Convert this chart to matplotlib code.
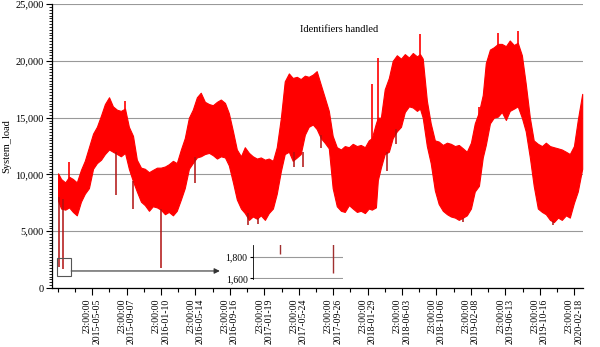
import numpy as np
import pandas as pd
import matplotlib
matplotlib.use("Agg")
import matplotlib.pyplot as plt
import matplotlib.dates as mdates
from matplotlib.patches import Rectangle
from matplotlib.ticker import MultipleLocator, FuncFormatter

plt.rcParams["font.family"] = ["Liberation Serif", "DejaVu Serif"]

# Envelope of the hourly load series (upper / lower level around each date)
sample_dates = [
    "2015-01-02", "2015-01-13", "2015-01-28", "2015-02-11", "2015-02-25", "2015-03-11",
    "2015-03-26", "2015-04-09", "2015-04-24", "2015-05-09", "2015-05-23", "2015-06-07",
    "2015-06-21", "2015-07-06", "2015-07-20", "2015-08-04", "2015-08-18", "2015-09-02",
    "2015-09-16", "2015-10-01", "2015-10-15", "2015-10-30", "2015-11-13", "2015-11-28",
    "2015-12-12", "2015-12-27", "2016-01-10", "2016-01-25", "2016-02-08", "2016-02-23",
    "2016-03-08", "2016-03-23", "2016-04-06", "2016-04-21", "2016-05-05", "2016-05-20",
    "2016-06-03", "2016-06-18", "2016-07-03", "2016-07-17", "2016-08-01", "2016-08-15",
    "2016-08-30", "2016-09-13", "2016-09-28", "2016-10-12", "2016-10-27", "2016-11-10",
    "2016-11-25", "2016-12-09", "2016-12-24", "2017-01-07", "2017-01-22", "2017-02-05",
    "2017-02-20", "2017-03-06", "2017-03-21", "2017-04-04", "2017-04-19", "2017-05-03",
    "2017-05-18", "2017-06-01", "2017-06-16", "2017-06-30", "2017-07-15", "2017-07-29",
    "2017-08-13", "2017-08-27", "2017-09-11", "2017-09-25", "2017-10-10", "2017-10-25",
    "2017-11-08", "2017-11-23", "2017-12-07", "2017-12-22", "2018-01-05", "2018-01-20",
    "2018-02-03", "2018-02-14", "2018-03-01", "2018-03-08", "2018-03-19", "2018-04-02",
    "2018-04-17", "2018-05-01", "2018-05-16", "2018-05-31", "2018-06-14", "2018-06-29",
    "2018-07-13", "2018-07-28", "2018-08-08", "2018-08-18", "2018-09-02", "2018-09-16",
    "2018-10-01", "2018-10-15", "2018-10-30", "2018-11-14", "2018-11-28", "2018-12-13",
    "2018-12-27", "2019-01-11", "2019-01-25", "2019-02-09", "2019-02-23", "2019-03-10",
    "2019-03-24", "2019-04-04", "2019-04-19", "2019-05-03", "2019-05-18", "2019-06-01",
    "2019-06-16", "2019-06-30", "2019-07-15", "2019-07-29", "2019-08-13", "2019-08-27",
    "2019-09-11", "2019-09-25", "2019-10-10", "2019-10-25", "2019-11-08", "2019-11-23",
    "2019-12-07", "2019-12-22", "2020-01-05", "2020-01-20", "2020-02-03", "2020-02-18",
    "2020-03-03", "2020-03-19",
]
load_high = [
    10100, 9600, 9300, 9800, 9600, 9300, 10400, 11200, 12400, 13600, 14200, 15200,
    16200, 16800, 16000, 15700, 15600, 15800, 14200, 13400, 11300, 10600, 10500, 10200,
    10400, 10600, 10600, 10700, 10900, 11200, 11000, 12200, 13200, 15000, 15700, 16800,
    17200, 16400, 16200, 16100, 16400, 16600, 16300, 15400, 13800, 12200, 11600, 12400,
    11900, 11600, 11400, 11500, 11300, 11400, 11200, 12400, 15000, 18200, 18900, 18500,
    18600, 18400, 18700, 18600, 18800, 19100, 17900, 16800, 15600, 13400, 12400, 12200,
    12500, 12400, 12700, 12500, 12600, 12400, 13000, 13200, 14500, 15000, 15000, 17500,
    18500, 20000, 20500, 20200, 20600, 20300, 20700, 20400, 20600, 20200, 16500, 14500,
    13000, 12900, 12600, 12800, 12700, 12500, 12600, 12300, 12000, 12800, 14500, 15500,
    17000, 19800, 21000, 21200, 21500, 21500, 21300, 21800, 21400, 21600, 20500, 18000,
    15000, 13000, 12700, 12500, 12800, 12500, 12400, 12300, 12200, 12000, 11800, 12500,
    14800, 17100,
]
load_low = [
    7700, 7000, 6900, 7100, 6700, 6400, 7600, 8300, 8800, 10500, 11000, 11300,
    11800, 12200, 12000, 11800, 11600, 11900, 10500, 9400, 8500, 7600, 7300, 6800,
    7200, 7100, 6900, 6500, 6700, 6400, 6800, 7800, 8800, 10500, 11000, 11500,
    11600, 11800, 11900, 11700, 11400, 11600, 11500, 10800, 9300, 7800, 7000, 6600,
    6000, 6300, 6100, 6400, 6000, 6600, 7000, 8300, 10300, 11800, 12000, 11200,
    11500, 11800, 13500, 14200, 14400, 14000, 13200, 12800, 12300, 8800, 7200, 6800,
    6700, 7300, 7000, 6700, 6800, 6600, 7000, 6900, 7100, 9500, 10600, 11800,
    12000, 13200, 13800, 14200, 15500, 16000, 15900, 15600, 15800, 15000, 12500, 11000,
    8600, 7400, 6800, 6500, 6300, 6200, 6000, 6200, 6400, 7000, 8500, 9000,
    11500, 12600, 14500, 15000, 15100, 15500, 14800, 15600, 15800, 16000, 15000, 13800,
    11500, 9000, 7000, 6700, 6500, 6000, 5800, 6200, 6000, 6400, 6200, 7500,
    8500, 10500,
]

# Isolated drops below the envelope
dip_dates = ["2015-01-05", "2015-01-21", "2015-07-31", "2015-10-02", "2016-01-09",
             "2016-05-13", "2016-11-21", "2016-12-27", "2017-05-07", "2017-06-09",
             "2017-08-13", "2018-04-09", "2018-05-12", "2019-01-11", "2019-12-05"]
dip_from = [8000, 7800, 12000, 9400, 7000, 11500, 6600, 6200, 12000, 12000,
            13500, 12000, 14000, 6200, 5900]
dip_to = [1830, 1650, 8200, 7000, 1760, 9240, 5540, 5630, 10650, 10650,
          12300, 10300, 12700, 5800, 5540]

# Isolated peaks above the envelope
peak_dates = ["2015-02-11", "2015-09-02", "2018-02-14", "2018-03-08", "2018-08-08",
              "2019-03-10", "2019-05-18", "2019-07-29"]
peak_from = [9500, 15000, 12800, 14000, 20400, 13500, 21200, 21400]
peak_to = [11100, 16500, 18000, 20300, 22400, 15900, 22500, 22600]

series_start = pd.Timestamp("2014-12-31 23:00:00")
tick_step_hours = 1500

t = pd.to_datetime(sample_dates)
dips = pd.to_datetime(dip_dates)
peaks = pd.to_datetime(peak_dates)

fig = plt.figure(figsize=(6, 3.47), dpi=100)
ax = fig.add_axes([0.0867, 0.170, 0.885, 0.818])

ax.yaxis.grid(True, color="#999999", linewidth=0.8)
ax.set_axisbelow(True)
ax.fill_between(t, load_low, load_high, facecolor="#ff0000", edgecolor="#ff0000",
                linewidth=0.8, zorder=2)
ax.vlines(peaks, peak_from, peak_to, color="#ff0000", linewidth=1.2, zorder=3)
ax.vlines(dips, dip_to, dip_from, color="#b01010", linewidth=1.1, zorder=3)

ax.set_ylim(0, 25000)
ax.set_xlim(pd.Timestamp("2014-12-11"), pd.Timestamp("2020-03-22"))
ax.yaxis.set_major_locator(MultipleLocator(5000))
ax.yaxis.set_minor_locator(MultipleLocator(250))
ax.yaxis.set_major_formatter(FuncFormatter(lambda v, _: f"{int(v):,}"))
ax.tick_params(axis="y", which="major", length=4, width=0.8, labelsize=7.5, pad=2)
ax.tick_params(axis="y", which="minor", length=2, width=0.6)

# ticks every 1500 hours, labels every 3000 hours
tick_times = [series_start + pd.Timedelta(hours=tick_step_hours * k) for k in range(31)]
major_times = [tt for k, tt in enumerate(tick_times) if k % 2 == 0 and k > 0]
minor_times = [tt for k, tt in enumerate(tick_times) if k % 2 == 1 or k == 0]
ax.set_xticks(major_times)
ax.set_xticklabels([tt.strftime("%H:%M:%S\n%Y-%m-%d") for tt in major_times],
                   rotation=90, fontsize=7, linespacing=1.05, multialignment="right")
ax.set_xticks(minor_times, minor=True)
ax.tick_params(axis="x", which="major", length=5, width=0.8, pad=2.5)
ax.tick_params(axis="x", which="minor", length=3, width=0.8)

for side in ("top", "right"):
    ax.spines[side].set_visible(False)
for side in ("left", "bottom"):
    ax.spines[side].set_linewidth(0.9)

ax.set_ylabel("System_load", fontsize=7.5, labelpad=3)
ax.text(0.54, 0.91, "Identifiers handled", transform=ax.transAxes,
        ha="center", va="center", fontsize=7.5)

# zoom box around the early drops and arrow to the detail panel
box_x0 = mdates.date2num(pd.Timestamp("2014-12-30"))
box_x1 = mdates.date2num(pd.Timestamp("2015-02-19"))
ax.add_patch(Rectangle((box_x0, 1050), box_x1 - box_x0, 1600, fill=False,
                       edgecolor="#555555", linewidth=0.8, zorder=4))
ax.annotate("", xy=(0.316, 0.06), xytext=(0.036, 0.06), xycoords="axes fraction",
            arrowprops=dict(arrowstyle="-|>", color="#333333", lw=0.8,
                            mutation_scale=8, shrinkA=0, shrinkB=0))

# detail panel of the drops
axin = fig.add_axes([0.422, 0.196, 0.15, 0.098])
axin.vlines(dips, dip_to, dip_from, color="#a03030", linewidth=1.0)
axin.set_xlim(pd.Timestamp("2014-12-28"), pd.Timestamp("2015-01-24"))
axin.set_ylim(1595, 1910)
axin.set_yticks([1600, 1800])
axin.yaxis.set_major_formatter(FuncFormatter(lambda v, _: f"{int(v):,}"))
axin.yaxis.grid(True, color="#999999", linewidth=0.8)
axin.set_axisbelow(True)
axin.set_xticks([])
axin.tick_params(axis="y", length=2, labelsize=7, pad=2)
for side in ("top", "right", "bottom"):
    axin.spines[side].set_visible(False)
axin.spines["left"].set_linewidth(0.6)
axin.patch.set_alpha(0)

fig.savefig("out.png", dpi=100)
